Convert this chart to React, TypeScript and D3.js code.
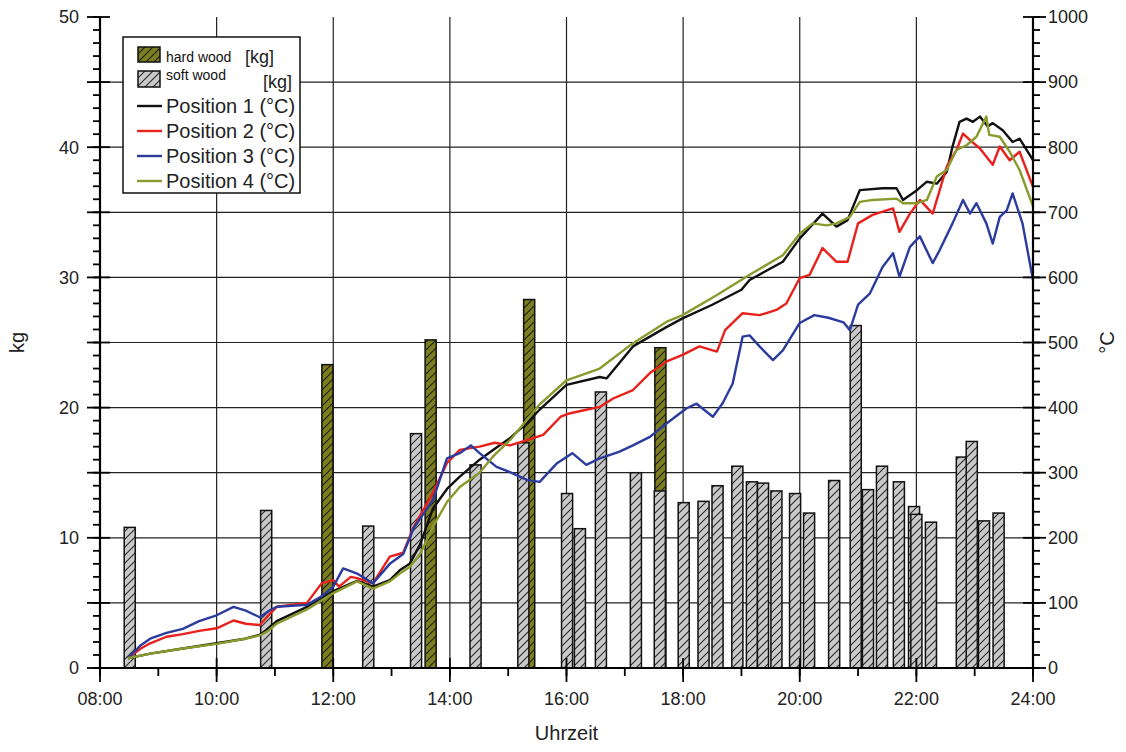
import React from 'react';
import * as d3 from 'd3';

const W = 1126, H = 752;
const PL = 100, PR = 1033, PT = 17, PB = 668;
const FONT = "'Liberation Sans', Arial, Helvetica, sans-serif";

// bar data (time in hours, kg)
const hardTimes = [11.90, 13.67, 15.36, 17.61];
const hardKg = [23.3, 25.2, 28.3, 24.6];
const softTimes = [8.51, 10.85, 12.60, 13.42, 14.44, 15.26, 16.01, 16.23, 16.59, 17.19, 17.60, 18.01, 18.35, 18.59, 18.93, 19.18, 19.37, 19.60, 19.92, 20.16, 20.59, 20.96, 21.17, 21.41, 21.70, 21.96, 22.00, 22.25, 22.78, 22.95, 23.16, 23.41];
const softKg = [10.8, 12.1, 10.9, 18.0, 15.6, 17.3, 13.4, 10.7, 21.2, 15.0, 13.6, 12.7, 12.8, 14.0, 15.5, 14.3, 14.2, 13.6, 13.4, 11.9, 14.4, 26.3, 13.7, 15.5, 14.3, 12.4, 11.8, 11.2, 16.2, 17.4, 11.3, 11.9];
const barWidthHours = 0.19;

// temperature series [hour, °C]
const pos1: [number, number][] = [[8.48,15],[8.86,22],[9.42,30],[10.0,38],[10.49,45],[10.74,51],[10.85,58],[11.03,72],[11.55,94],[12.0,118],[12.41,134],[12.68,125],[12.97,135],[13.14,150],[13.31,160],[13.49,190],[13.71,245],[13.95,275],[14.17,294],[14.51,320],[14.74,335],[15.03,353],[15.32,376],[15.54,397],[16.0,435],[16.57,447],[16.69,445],[17.14,494],[17.72,524],[17.99,537],[18.5,558],[19.0,581],[19.14,596],[19.71,624],[20.0,660],[20.39,698],[20.63,678],[20.82,688],[21.03,734],[21.42,737],[21.66,737],[21.77,719],[22.01,734],[22.18,747],[22.35,744],[22.52,762],[22.62,801],[22.74,839],[22.86,844],[22.97,839],[23.09,847],[23.22,832],[23.31,837],[23.48,826],[23.65,808],[23.77,813],[24.0,780]];
const pos2: [number, number][] = [[8.48,15],[8.7,30],[8.86,38],[9.14,48],[9.42,52],[9.7,57],[10.0,61],[10.29,73],[10.5,68],[10.74,66],[10.9,82],[11.03,94],[11.55,100],[11.8,130],[12.0,135],[12.1,125],[12.3,140],[12.41,138],[12.68,130],[12.97,171],[13.2,177],[13.38,217],[13.71,269],[13.95,315],[14.17,335],[14.51,340],[14.77,346],[15.03,342],[15.32,350],[15.6,358],[15.9,386],[16.05,391],[16.2,394],[16.57,401],[16.8,414],[17.14,427],[17.43,453],[17.72,471],[17.99,481],[18.28,494],[18.58,486],[18.72,519],[19.02,545],[19.31,542],[19.6,550],[19.77,560],[20.0,599],[20.17,604],[20.39,645],[20.63,624],[20.82,624],[21.0,683],[21.25,696],[21.49,703],[21.6,706],[21.71,670],[21.89,698],[22.06,719],[22.28,698],[22.52,770],[22.69,796],[22.8,821],[22.92,811],[23.09,798],[23.31,773],[23.43,801],[23.6,780],[23.77,793],[24.0,739]];
const pos3: [number, number][] = [[8.48,15],[8.7,35],[8.86,45],[9.14,54],[9.42,60],[9.7,72],[10.0,81],[10.29,94],[10.5,88],[10.74,78],[10.9,88],[11.03,94],[11.55,97],[11.8,110],[12.0,125],[12.17,153],[12.41,145],[12.68,130],[12.97,160],[13.2,175],[13.38,215],[13.71,258],[13.95,322],[14.17,330],[14.36,342],[14.51,330],[14.8,309],[15.03,301],[15.32,289],[15.54,286],[15.83,314],[16.1,330],[16.34,312],[16.57,322],[16.9,332],[17.14,342],[17.43,355],[17.72,376],[18.06,399],[18.23,406],[18.51,386],[18.68,407],[18.85,437],[19.02,509],[19.14,511],[19.31,494],[19.54,473],[19.71,488],[20.0,530],[20.25,542],[20.49,538],[20.75,531],[20.86,519],[21.0,558],[21.2,575],[21.42,616],[21.6,637],[21.71,601],[21.89,647],[22.06,663],[22.28,622],[22.4,642],[22.62,683],[22.8,719],[22.92,698],[23.03,714],[23.2,683],[23.31,652],[23.43,693],[23.55,703],[23.65,729],[23.82,683],[24.0,596]];
const pos4: [number, number][] = [[8.48,15],[8.86,22],[9.42,30],[10.0,37],[10.49,45],[10.74,50],[10.85,55],[11.03,68],[11.55,90],[12.0,115],[12.41,133],[12.68,122],[12.97,133],[13.14,145],[13.31,155],[13.49,175],[13.71,217],[13.95,255],[14.17,278],[14.51,300],[14.74,325],[15.03,350],[15.32,381],[15.54,405],[16.0,442],[16.57,460],[17.14,499],[17.72,532],[17.99,542],[18.58,573],[19.14,604],[19.71,634],[20.0,667],[20.22,683],[20.46,680],[20.63,683],[20.86,693],[21.03,716],[21.25,719],[21.66,721],[21.77,714],[22.01,714],[22.18,719],[22.35,755],[22.52,765],[22.69,796],[22.86,803],[23.03,816],[23.2,847],[23.25,819],[23.43,816],[23.6,793],[23.77,765],[24.0,709]];

const seriesNames = ['Position 1 (°C)', 'Position 2 (°C)', 'Position 3 (°C)', 'Position 4 (°C)'];
const seriesColors = ['#111111', '#e8211d', '#2b3b9e', '#8a9a2c'];

const xTickHours = [8, 10, 12, 14, 16, 18, 20, 22, 24];
const xTickLabels = ['08:00', '10:00', '12:00', '14:00', '16:00', '18:00', '20:00', '22:00', '24:00'];
const kgTickValues = [0, 10, 20, 30, 40, 50];
const tempTickValues = [0, 100, 200, 300, 400, 500, 600, 700, 800, 900, 1000];

const SOFT_FILL = '#c9c9c9';
const HARD_FILL = '#7c7e1f';

export default function App() {
  const x = d3.scaleLinear().domain([8, 24]).range([PL, PR]);
  const yKg = d3.scaleLinear().domain([0, 50]).range([PB, PT]);
  const yT = d3.scaleLinear().domain([0, 1000]).range([PB, PT]);
  const line = d3.line<[number, number]>().x(d => x(d[0])).y(d => yT(d[1]));
  const bw = x(8 + barWidthHours) - x(8);
  const series = [pos1, pos2, pos3, pos4];

  const hGrid = d3.range(5, 50, 5);
  const vGrid = d3.range(10, 24, 2);
  const kgMinor = d3.range(0, 51, 1);
  const kgMajor = d3.range(0, 51, 5);
  const tMinor = d3.range(0, 1001, 20);
  const tMajor = d3.range(0, 1001, 100);
  const xMinor = d3.range(8, 25, 1);

  return (
    <svg width={W} height={H} style={{ position: 'absolute', left: 0, top: 0, background: '#fff' }} fontFamily={FONT}>
      <defs>
        <pattern id="hatchSoft" patternUnits="userSpaceOnUse" width="8" height="8">
          <rect width="8" height="8" fill={SOFT_FILL} />
          <path d="M-2,2 L2,-2 M0,8 L8,0 M6,10 L10,6" stroke="#2a2a2a" strokeWidth="1.1" />
        </pattern>
        <pattern id="hatchHard" patternUnits="userSpaceOnUse" width="8" height="8">
          <rect width="8" height="8" fill={HARD_FILL} />
          <path d="M-2,2 L2,-2 M0,8 L8,0 M6,10 L10,6" stroke="#1e1e10" strokeWidth="1.1" />
        </pattern>
      </defs>
      <rect width={W} height={H} fill="#fff" />
      {/* grid */}
      {hGrid.map(v => (
        <line key={'h' + v} x1={PL} x2={PR} y1={yKg(v)} y2={yKg(v)} stroke="#222" strokeWidth={1.2} />
      ))}
      {vGrid.map(v => (
        <line key={'v' + v} x1={x(v)} x2={x(v)} y1={PT} y2={PB} stroke="#222" strokeWidth={1.2} />
      ))}
      {/* bars */}
      {hardTimes.map((t, i) => (
        <rect key={'hb' + i} x={x(t) - bw / 2} width={bw} y={yKg(hardKg[i])} height={yKg(0) - yKg(hardKg[i])}
          fill="url(#hatchHard)" stroke="#111" strokeWidth={1.5} />
      ))}
      {softTimes.map((t, i) => (
        <rect key={'sb' + i} x={x(t) - bw / 2} width={bw} y={yKg(softKg[i])} height={yKg(0) - yKg(softKg[i])}
          fill="url(#hatchSoft)" stroke="#111" strokeWidth={1.5} />
      ))}
      {/* lines */}
      {series.map((s, i) => (
        <path key={'l' + i} d={line(s) || ''} fill="none" stroke={seriesColors[i]} strokeWidth={2.4} strokeLinejoin="round" />
      ))}
      {/* axes */}
      <line x1={PL} x2={PL} y1={PT} y2={PB} stroke="#000" strokeWidth={2.2} />
      <line x1={PR} x2={PR} y1={PT} y2={PB} stroke="#000" strokeWidth={2.2} />
      <line x1={PL - 1} x2={PR + 1} y1={PB} y2={PB} stroke="#000" strokeWidth={2.2} />
      {kgMinor.map(v => (
        <line key={'km' + v} x1={PL - 7} x2={PL} y1={yKg(v)} y2={yKg(v)} stroke="#000" strokeWidth={1.8} />
      ))}
      {kgMajor.map(v => (
        <line key={'kM' + v} x1={PL - 13} x2={PL + 10} y1={yKg(v)} y2={yKg(v)} stroke="#000" strokeWidth={1.8} />
      ))}
      {tMinor.map(v => (
        <line key={'tm' + v} x1={PR} x2={PR + 7} y1={yT(v)} y2={yT(v)} stroke="#000" strokeWidth={1.8} />
      ))}
      {tMajor.map(v => (
        <line key={'tM' + v} x1={PR - 10} x2={PR + 13} y1={yT(v)} y2={yT(v)} stroke="#000" strokeWidth={1.8} />
      ))}
      {xMinor.map(v => (
        <line key={'xm' + v} x1={x(v)} x2={x(v)} y1={PB} y2={PB + 8} stroke="#000" strokeWidth={1.8} />
      ))}
      {xTickHours.map(v => (
        <line key={'xM' + v} x1={x(v)} x2={x(v)} y1={PB - 10} y2={PB + 14} stroke="#000" strokeWidth={1.8} />
      ))}
      {/* tick labels */}
      {kgTickValues.map(v => (
        <text key={'kl' + v} x={PL - 21} y={yKg(v)} dy="0.35em" textAnchor="end" fontSize={18} fill="#222">{v}</text>
      ))}
      {tempTickValues.map(v => (
        <text key={'tl' + v} x={PR + 15} y={yT(v)} dy="0.35em" textAnchor="start" fontSize={18} fill="#222">{v}</text>
      ))}
      {xTickHours.map((v, i) => (
        <text key={'xl' + v} x={x(v)} y={705} textAnchor="middle" fontSize={18} fill="#222">{xTickLabels[i]}</text>
      ))}
      {/* axis titles */}
      <text transform={`translate(24,${(PT + PB) / 2}) rotate(-90)`} textAnchor="middle" fontSize={20} fill="#222">kg</text>
      <text transform={`translate(1114,${(PT + PB) / 2}) rotate(-90)`} textAnchor="middle" fontSize={20} fill="#222">°C</text>
      <text x={(PL + PR) / 2} y={740} textAnchor="middle" fontSize={20} fill="#222">Uhrzeit</text>
      {/* legend */}
      <g>
        <rect x={123} y={37} width={177} height={156} fill="#fff" stroke="#111" strokeWidth={1.5} />
        <rect x={138} y={47} width={22} height={15} fill="url(#hatchHard)" stroke="#111" strokeWidth={1.5} />
        <text x={166} y={62} fontSize={14} fill="#111">hard wood</text>
        <text x={245} y={63} fontSize={18} fill="#222">[kg]</text>
        <rect x={138} y={71} width={22} height={16} fill="url(#hatchSoft)" stroke="#111" strokeWidth={1.5} />
        <text x={166} y={80} fontSize={14} fill="#111">soft wood</text>
        <text x={263} y={88} fontSize={18} fill="#222">[kg]</text>
        {seriesNames.map((n, i) => (
          <g key={'lg' + i}>
            <line x1={137} x2={162} y1={106 + i * 25} y2={106 + i * 25} stroke={seriesColors[i]} strokeWidth={2.4} />
            <text x={166} y={113 + i * 25} fontSize={20} fill="#222">{n}</text>
          </g>
        ))}
      </g>
    </svg>
  );
}
